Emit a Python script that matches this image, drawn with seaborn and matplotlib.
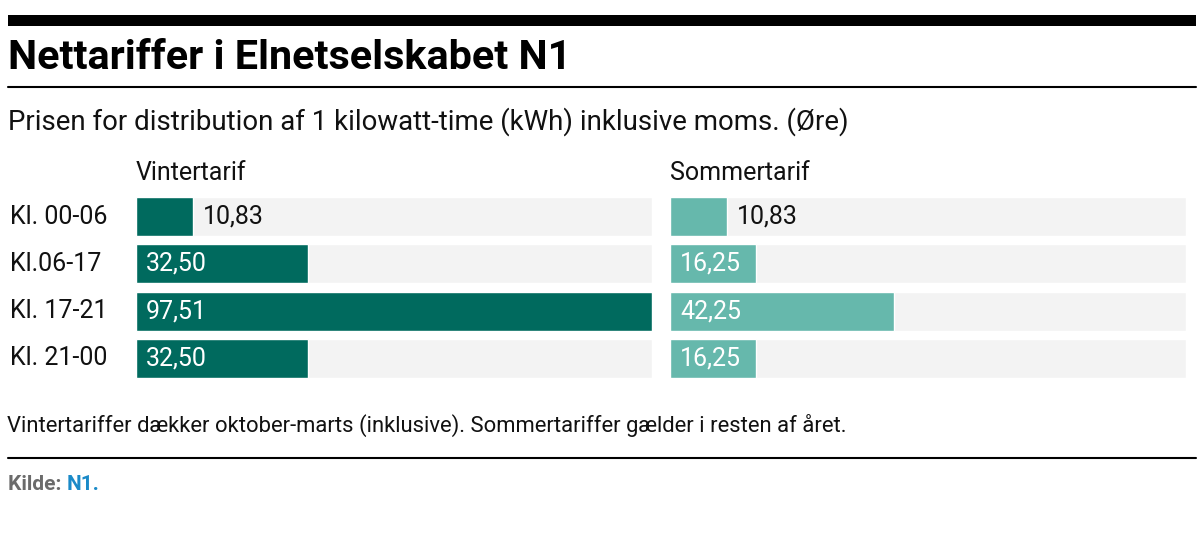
import matplotlib
matplotlib.use("Agg")
import matplotlib.pyplot as plt
import matplotlib.transforms as mtransforms
from matplotlib.patches import Rectangle
from matplotlib.lines import Line2D
import seaborn as sns
import pandas as pd

# ---------------- data ----------------
periods = ["Kl. 00-06", "Kl.06-17", "Kl. 17-21", "Kl. 21-00"]
winter = [10.83, 32.50, 97.51, 32.50]
summer = [10.83, 16.25, 42.25, 16.25]
panel_titles = ["Vintertarif", "Sommertarif"]
title = "Nettariffer i Elnetselskabet N1"
subtitle = "Prisen for distribution af 1 kilowatt-time (kWh) inklusive moms. (Øre)"
note = "Vintertariffer dækker oktober-marts (inklusive). Sommertariffer gælder i resten af året."
source_label = "Kilde: "
source_name = "N1."

# ---------------- style ----------------
sns.set_theme(style="white")
plt.rcParams["font.family"] = ["Roboto", "DejaVu Sans"]

W, H = 1200, 548
fig = plt.figure(figsize=(12, 5.48), dpi=100)
fig.patch.set_facecolor("white")


def fx(px):
    return px / W


def fy(py):
    return 1 - py / H


def fit(t, target_px):
    fig.canvas.draw()
    r = fig.canvas.get_renderer()
    w = t.get_window_extent(renderer=r).width
    t.set_fontsize(t.get_fontsize() * target_px / w)


# rules
fig.add_artist(Rectangle((fx(8), fy(26)), fx(1196) - fx(8), 11 / H,
                         transform=fig.transFigure, color="black", lw=0))
fig.add_artist(Line2D([fx(8), fx(1196)], [fy(86.5), fy(86.5)],
                      transform=fig.transFigure, color="black", lw=1.5))
fig.add_artist(Line2D([fx(8), fx(1196)], [fy(458), fy(458)],
                      transform=fig.transFigure, color="black", lw=1.5))

# texts
t_title = fig.text(fx(8), fy(69), title, fontsize=26, fontweight="bold",
                   color="black", va="baseline", ha="left")
fit(t_title, 564)
t_sub = fig.text(fx(8), fy(130), subtitle, fontsize=18, color="#111111",
                 va="baseline", ha="left")
fit(t_sub, 840)
t_note = fig.text(fx(7), fy(432), note, fontsize=14, color="#111111",
                  va="baseline", ha="left")
fit(t_note, 844)
t_src = fig.text(fx(8), fy(490), source_label, fontsize=15, fontweight="bold",
                 color="#6b6b6b", va="baseline", ha="left")
fig.canvas.draw()
ext = t_src.get_window_extent(renderer=fig.canvas.get_renderer())
fig.text(ext.x1 / W, fy(490), source_name, fontsize=15, fontweight="bold",
         color="#1a8ac8", va="baseline", ha="left")

# ---------------- panels ----------------
xmax = max(max(winter), max(summer))
track = [xmax] * len(periods)
panels = [(winter, "#006a5e", 136, 652), (summer, "#66b8ac", 670, 1186)]
ax_top, ax_bot = 192.9, 382.1
label_size = 18

for i, ((vals, col, x0, x1), ptitle) in enumerate(zip(panels, panel_titles)):
    ax = fig.add_axes([fx(x0), fy(ax_bot), (x1 - x0) / W, (ax_bot - ax_top) / H])
    df = pd.DataFrame({"period": periods, "value": vals, "track": track})
    sns.barplot(data=df, x="track", y="period", orient="h", color="#f3f3f3",
                saturation=1, width=0.825, errorbar=None, ax=ax)
    sns.barplot(data=df, x="value", y="period", orient="h", color=col,
                saturation=1, width=0.825, errorbar=None, ax=ax)
    ax.set_xlim(0, xmax)
    ax.set_ylim(len(periods) - 0.5, -0.5)
    ax.axis("off")

    px_per_unit = (x1 - x0) / xmax
    for j, v in enumerate(vals):
        lab = f"{v:.2f}".replace(".", ",")
        if v * px_per_unit > 75:
            ax.annotate(lab, (0, j), xytext=(7.2, 0), textcoords="offset points",
                        va="center", ha="left", color="white", fontsize=label_size)
        else:
            ax.annotate(lab, (v, j), xytext=(7.2, 0), textcoords="offset points",
                        va="center", ha="left", color="#111111", fontsize=label_size)

    fig.text(fx(x0), fy(180), ptitle, fontsize=label_size, color="#111111",
             va="baseline", ha="left")

    if i == 0:
        trans = mtransforms.blended_transform_factory(fig.transFigure, ax.transData)
        for j, p in enumerate(periods):
            ax.text(fx(10), j, p, transform=trans, va="center", ha="left",
                    fontsize=label_size, color="#111111")

fig.savefig("out.png", dpi=100, facecolor="white")
